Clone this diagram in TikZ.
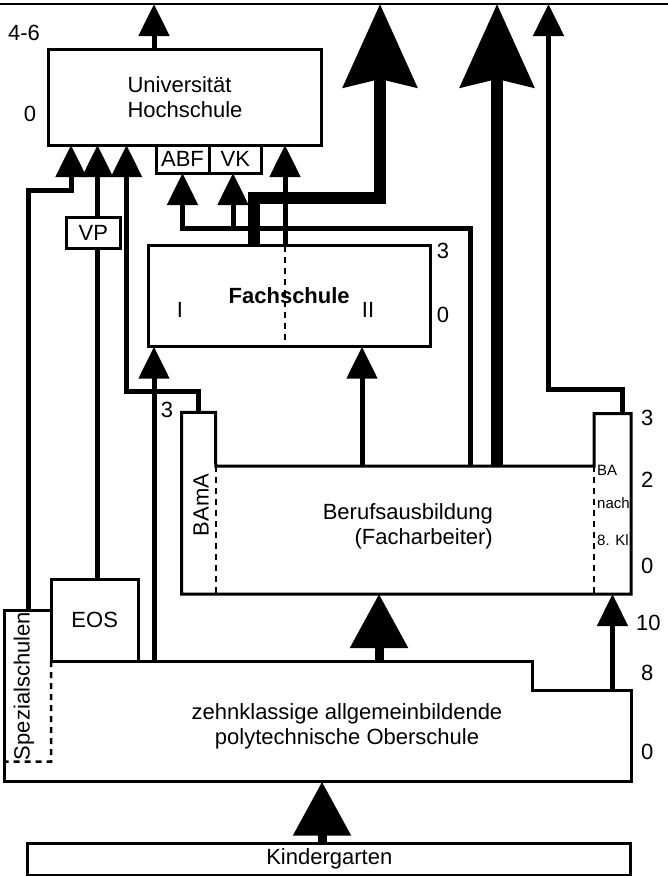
\documentclass[tikz,border=0pt]{standalone}
\usepackage{fontspec}
\setmainfont{Liberation Sans}
\usetikzlibrary{arrows.meta,positioning}
\tikzset {
  box/.style = {
    draw,
    line width=3pt,
    fill=white,
    inner sep=0pt,
    outer sep=0pt,
    font=\fontsize{22}{25}\selectfont
  },
  region/.style = {inner sep=0pt, outer sep=0pt},
  outline/.style = {line width=3pt, line join=miter},
  divider/.style = {line width=2.5pt, dash pattern=on 6pt off 5pt},
  lane/.style = {line width=5pt, line join=miter},
  flow/.style = {lane, -{Triangle[width=30pt, length=32pt]}},
  broad flow/.style = {line width=9pt, -{Triangle[width=56pt, length=54pt]}},
  main flow/.style = {line width=12pt, line join=miter, -{Stealth[width=73pt, length=83pt, inset=8pt]}},
  txt/.style = {inner sep=0pt, font=\fontsize{22}{25}\selectfont},
  small txt/.style = {inner sep=0pt, font=\fontsize{15}{18}\selectfont},
  year/.style = {txt, anchor=west}
}

\begin{document}
\begin{tikzpicture}[x=1pt, y=-1pt]
\useasboundingbox (0,0) rectangle (668,876);

% --- Top edge ---
\coordinate (edgeW) at (0,4);
\coordinate (edgeE) at (668,4);
\draw[line width=2.5pt] (edgeW) -- (edgeE);

% --- Lanes of the vertical connectors ---
\coordinate (xSpez)  at (28.5,0);
\coordinate (xEOS)   at (97.5,0);
\coordinate (xI)     at (154,0);
\coordinate (xVK)    at (233,0);
\coordinate (xThickF) at (254,0);
\coordinate (xFU)    at (285,0);
\coordinate (xKG)    at (322,0);
\coordinate (xII)    at (362,0);
\coordinate (xOB)    at (379,0);
\coordinate (xFA)    at (470.5,0);
\coordinate (xThickB) at (497,0);
\coordinate (xBAc)   at (622,0);

% --- Boxes ---
\node[box, minimum width=273pt, minimum height=96pt, align=left] (uni) at (185,97) {Universität\\Hochschule};
\node[box, minimum width=53pt, minimum height=28pt] (abf) at (182.5,159) {ABF};
\node[box, minimum width=52.5pt, minimum height=28pt] (vk) at (235.25,159) {VK};
\node[box, minimum width=53.5pt, minimum height=30.5pt] (vp) at (93.25,232.75) {VP};
\node[box, minimum width=281.7pt, minimum height=101.2pt] (fach) at (289.2,296.1) {\bfseries Fachschule};
\node[box, minimum width=87.3pt, minimum height=81.7pt] (eos) at (94.7,620.2) {EOS};
\node[box, minimum width=603.3pt, minimum height=31.7pt] (kg) at (329.3,859.2) {Kindergarten};

\node[txt] (fachI)  at (180,310) {I};
\node[txt] (fachII) at (368,310) {II};
\draw[divider] (fach.north -| xFU) -- ++(0,95);

% --- Berufsausbildung ---
\node[region, minimum width=34pt, minimum height=181.7pt] (bama) at (198.7,503.2) {};
\node[region, minimum width=378.3pt, minimum height=128pt] (beruf) at (404.9,530) {};
\node[region, minimum width=37pt, minimum height=180.5pt] (ba8) at (612.5,503.8) {};
\draw[outline] (bama.south west) -- (bama.north west) -- (bama.north east)
  -- (beruf.north west) -- (beruf.north east) -- (ba8.north west)
  -- (ba8.north east) -- (ba8.south east) -- cycle;
\draw[divider] (beruf.north west) -- (beruf.south west);
\draw[divider] (beruf.north east) -- (beruf.south east);

\node[txt, rotate=90] (bamatxt) at (201,505) {BAmA};
\node[txt, align=right, anchor=east] (beruftxt) at (493,526) {Berufsausbildung\\(Facharbeiter)};
\node[small txt, anchor=base west] (ba1) at (597,475) {BA};
\node[small txt, anchor=base west] (ba2) at (597,508) {nach};
\node[small txt, anchor=base west] (ba3) at (597,545) {8. Kl};

% --- Oberschule ---
\node[region, minimum width=46.7pt, minimum height=151.7pt] (spez) at (27.65,685.85) {};
\coordinate (obsSW)   at (4.3,781.7);
\coordinate (obsSE)   at (631,781.7);
\coordinate (obsE)    at (631,690);
\coordinate (obsStep) at (532.7,690);
\coordinate (obsN)    at (obsStep |- eos.south);
\draw[outline] (spez.north east) -- (spez.north west) -- (obsSW) -- (obsSE)
  -- (obsE) -- (obsStep) -- (obsN) -- (eos.south west);
\draw[divider] (eos.south west) -- (spez.south east) -- (spez.south west);

\node[txt, rotate=90] (speztxt) at (24,686) {Spezialschulen};
\node[txt, align=center] (obstxt) at (347,726) {zehnklassige allgemeinbildende\\polytechnische Oberschule};

% --- Connectors ---
\coordinate (bendSpez) at (71,190);
\coordinate (bendBAmA) at (126.5,391.5);
\coordinate (bendABF)  at (182.5,228.5);
\coordinate (bendFach) at (380,197.5);
\coordinate (bendBA)   at (548.5,389);

\draw[flow] (uni.north -| xI) -- (edgeW -| xI);
\draw[flow] (spez.north -| xSpez) |- (bendSpez) -- (uni.south -| bendSpez);
\draw[lane] (eos.north -| xEOS) -- (vp.south -| xEOS);
\draw[flow] (vp.north -| xEOS) -- (uni.south -| xEOS);
\draw[flow] (bama.north) |- (bendBAmA) -- (uni.south -| bendBAmA);
\draw[flow] (obsN -| xI) -- (fach.south -| xI);
\draw[flow] (beruf.north -| xFA) |- (bendABF) -- (abf.south);
\draw[flow] (bendABF -| xVK) -- (vk.south -| xVK);
\draw[flow] (fach.north -| xFU) -- (uni.south -| xFU);
\draw[main flow] (fach.north -| xThickF) |- (bendFach) -- (edgeW -| bendFach);
\draw[flow] (beruf.north -| xII) -- (fach.south -| xII);
\draw[main flow] (beruf.north -| xThickB) -- (edgeW -| xThickB);
\draw[flow] (ba8.north -| xBAc) |- (bendBA) -- (edgeW -| bendBA);
\draw[broad flow] (obsN -| xOB) -- (beruf.south -| xOB);
\draw[flow] (obsE -| ba8.south) -- (ba8.south);
\draw[broad flow] (kg.north -| xKG) -- (obsSW -| xKG);

% --- School years ---
\node[txt] (y46) at (24,33) {4-6};
\node[txt] (yU0) at (30,113.5) {0};
\node[txt] (yF3) at (443,251) {3};
\node[txt] (yF0) at (443,315) {0};
\node[txt] (yB3) at (167,410) {3};
\foreach \x/\y/\t in {641/418/3, 641/480/2, 641/566/0, 636/623/10, 641/673/8, 641/752/0}
  \node[year] (g\y) at (\x,\y) {\t};

\end{tikzpicture}
\end{document}
